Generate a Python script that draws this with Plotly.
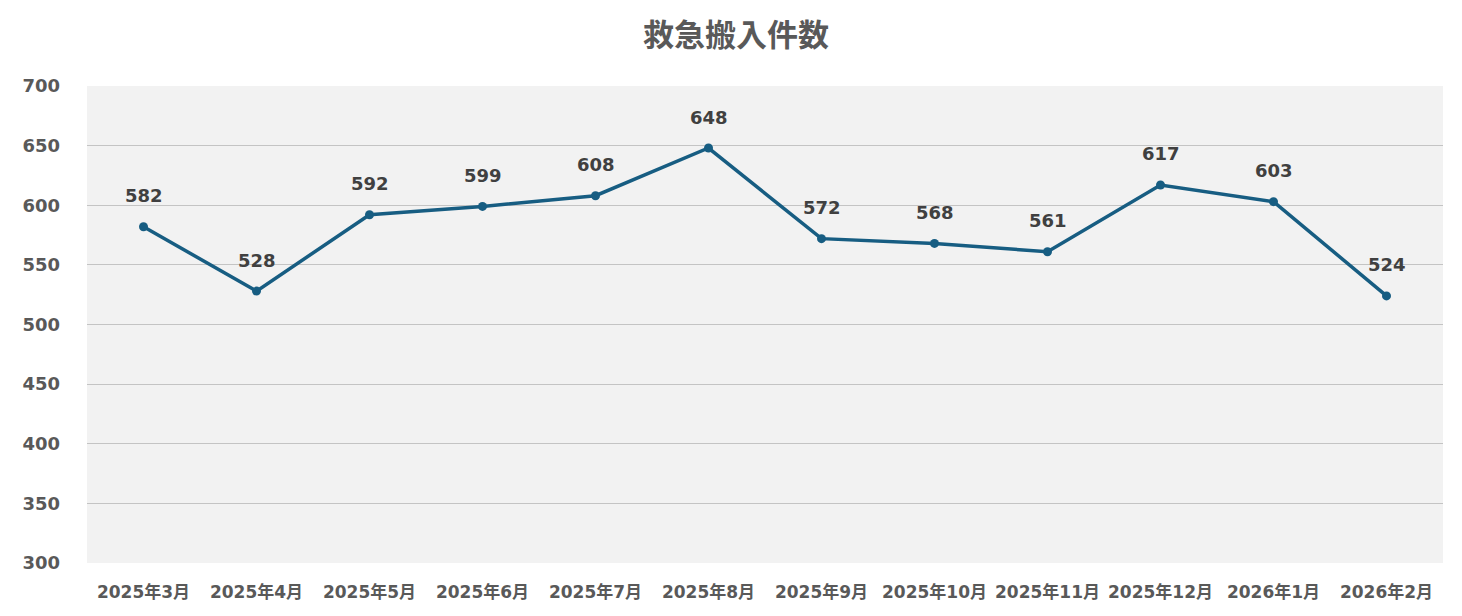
import plotly.graph_objects as go

months = ["2025年3月", "2025年4月", "2025年5月", "2025年6月", "2025年7月", "2025年8月",
          "2025年9月", "2025年10月", "2025年11月", "2025年12月", "2026年1月", "2026年2月"]
counts = [582, 528, 592, 599, 608, 648, 572, 568, 561, 617, 603, 524]
y_ticks = [300, 350, 400, 450, 500, 550, 600, 650, 700]

FONT = "DejaVu Sans, Noto Sans CJK JP, sans-serif"

fig = go.Figure()
fig.add_trace(go.Scatter(
    x=months, y=counts, mode="lines+markers",
    line=dict(color="#175d82", width=3.5),
    marker=dict(color="#175d82", size=9),
    hoverinfo="x+y", showlegend=False,
))
for m, v in zip(months, counts):
    fig.add_annotation(x=m, y=v, text=f"<b>{v}</b>", showarrow=False, yshift=31,
                       font=dict(family=FONT, size=18, color="#404040"))

fig.update_layout(
    width=1446, height=600,
    margin=dict(l=79, r=11, t=78, b=45),
    paper_bgcolor="white", plot_bgcolor="#f2f2f2",
    title=dict(text="<b>救急搬入件数</b>", x=0.5035, xanchor="center", y=0.955, yanchor="middle",
               font=dict(family=FONT, size=31, color="#595959")),
    font=dict(family=FONT, color="#595959"),
    xaxis=dict(type="category", range=[-0.5, 11.5], showgrid=False, zeroline=False,
               tickfont=dict(family=FONT, size=17, color="#595959", weight="bold"),
               ticks="", ticklabelstandoff=17, showline=False, automargin=False),
    yaxis=dict(range=[300, 700], tickvals=y_ticks, showgrid=True, gridcolor="#c4c4c4",
               gridwidth=1, zeroline=False,
               tickfont=dict(family=FONT, size=18, color="#595959", weight="bold"),
               ticks="", ticklabelstandoff=26, showline=False, automargin=False),
)
fig.write_html("out.html")
